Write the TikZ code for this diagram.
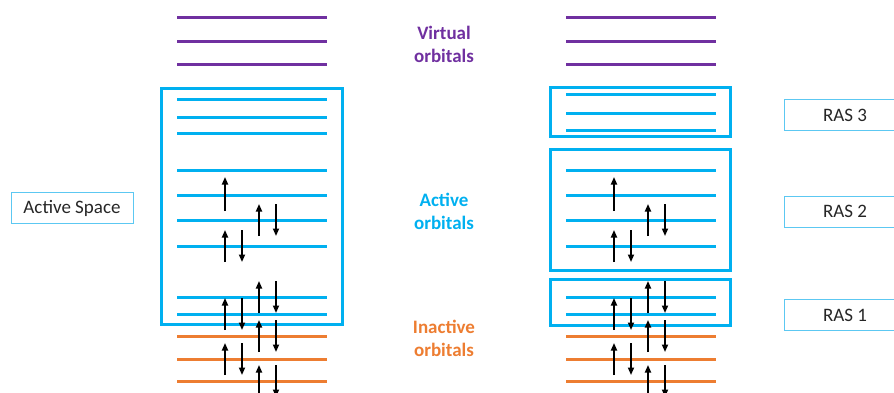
\documentclass[tikz,border=0pt]{standalone}
\usepackage{fontspec}
\setmainfont{Carlito}
\usetikzlibrary{arrows.meta}
\definecolor{vir}{HTML}{7030A0}
\definecolor{act}{HTML}{00B0F0}
\definecolor{ina}{HTML}{ED7D31}
\definecolor{lblbox}{HTML}{5CC8F2}
\definecolor{txt}{HTML}{262626}
\begin{document}
\begin{tikzpicture}[x=1pt,y=-1pt,
  orb/.style={line width=3pt},
  vorb/.style={orb,draw=vir},
  aorb/.style={orb,draw=act},
  iorb/.style={orb,draw=ina},
  frame/.style={draw=act,line width=3pt},
  spin/.style={line width=1.7pt,-{Triangle[length=7.5pt,width=6pt]}},
  lbl/.style={draw=lblbox,line width=1pt,minimum width=122pt,minimum height=31pt,
              font=\fontsize{19}{20}\selectfont,text=txt,inner sep=0pt},
  ttl/.style={font=\bfseries\fontsize{19}{23}\selectfont,align=center,inner sep=0pt}]
\useasboundingbox (0,0) rectangle (894,392);
\clip (0,0) rectangle (894,392);
% ---------- orbital columns ----------
\foreach \ox in {0,389}{
  \foreach \y in {17,41,64} \draw[vorb] (177+\ox,\y) -- (327+\ox,\y);
  \foreach \y in {170,195,220,246,297,314} \draw[aorb] (177+\ox,\y) -- (327+\ox,\y);
  \foreach \y in {336,359,381} \draw[iorb] (177+\ox,\y) -- (327+\ox,\y);
}
% upper active lines: left column
\foreach \y in {99,117,133} \draw[aorb] (177,\y) -- (327,\y);
% upper active lines: right column (RAS 3)
\foreach \y in {94,113,130} \draw[aorb] (566,\y) -- (716,\y);
% ---------- frames ----------
\draw[frame] (161.5,88) rectangle (342.5,324.5);
\draw[frame] (550.5,87.5) rectangle (730.5,136.5);
\draw[frame] (550.5,149) rectangle (730.5,270.5);
\draw[frame] (550.5,279.5) rectangle (730.5,325);
% ---------- electrons ----------
\foreach \ox in {0,389}{
  % single electron
  \draw[spin] (225+\ox,211) -- (225+\ox,177);
  % right pairs
  \foreach \y in {220,297,336,381}{
    \draw[spin] (259+\ox,\y+16) -- (259+\ox,\y-16);
    \draw[spin] (276+\ox,\y-16) -- (276+\ox,\y+16);
  }
  % left pairs
  \foreach \y in {246,314,359}{
    \draw[spin] (225+\ox,\y+16) -- (225+\ox,\y-16);
    \draw[spin] (242+\ox,\y-16) -- (242+\ox,\y+16);
  }
}
% ---------- titles ----------
\node[ttl,text=vir] (virt) at (444,44) {Virtual\\orbitals};
\node[ttl,text=act] (actv) at (444,211.5) {Active\\orbitals};
\node[ttl,text=ina] (inac) at (444,338.5) {Inactive\\orbitals};
% ---------- label boxes ----------
\node[lbl] (space) at (72,208) {Active Space};
\node[lbl] (ras3) at (845,115) {RAS 3};
\node[lbl] (ras2) at (845,211.5) {RAS 2};
\node[lbl] (ras1) at (845,315) {RAS 1};
\end{tikzpicture}
\end{document}
